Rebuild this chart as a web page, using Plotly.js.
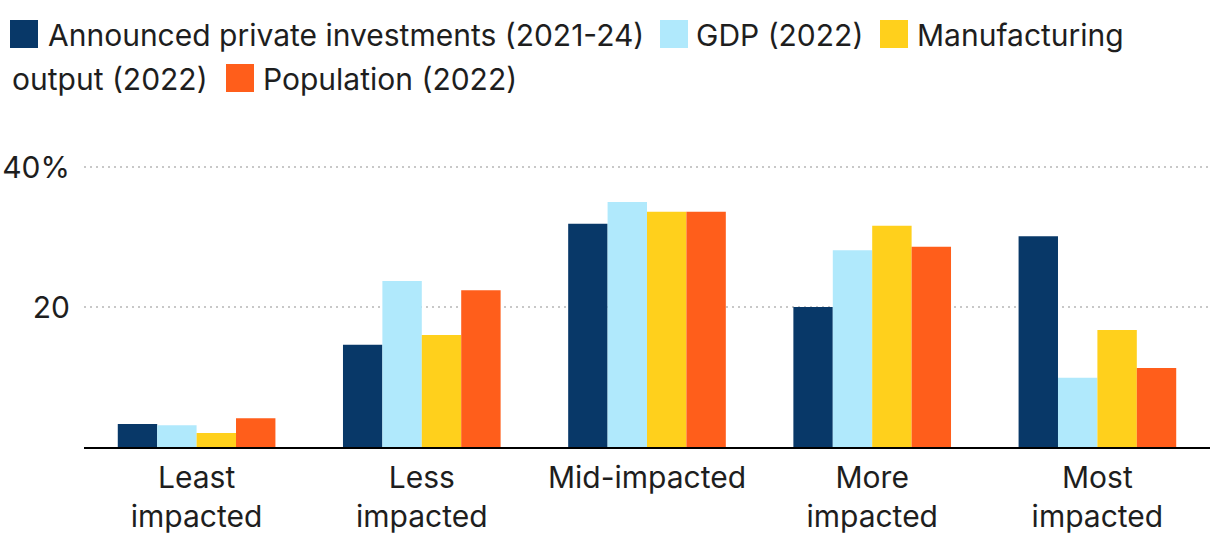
<!DOCTYPE html>
<html>
<head>
<meta charset="utf-8">
<script src="https://cdn.plot.ly/plotly-3.0.1.min.js"></script>
<style>html,body{margin:0;padding:0;background:#fff;}#chart{width:1220px;height:552px;}</style>
</head>
<body>
<div id="chart"></div>
<script>
const categories = ["Least<br>impacted", "Less<br>impacted", "Mid-impacted", "More<br>impacted", "Most<br>impacted"];
const seriesNames = ["Announced private investments (2021-24)", "GDP (2022)", "Manufacturing output (2022)", "Population (2022)"];
const investments = [3.3, 14.6, 31.9, 20.0, 30.1];
const gdp = [3.1, 23.7, 35.0, 28.1, 9.9];
const manufacturing = [2.0, 16.0, 33.6, 31.6, 16.7];
const population = [4.1, 22.4, 33.6, 28.6, 11.3];
const tickVals = [20, 40];
const tickText = ["20", "40%"];

const colors = ["#083868", "#B0E9FC", "#FFD01C", "#FF5E1B"];
const allValues = [investments, gdp, manufacturing, population];

const W = 1220, H = 552;
const M = {l: 84, r: 10, t: 160, b: 105};
const PW = W - M.l - M.r, PH = H - M.t - M.b;
const px = x => (x - M.l) / PW;
const py = y => (H - M.b - y) / PH;

const FONT = "Inter, 'Noto Sans', sans-serif";
const TXT = "#1e1e1e";
const FS = 30;

const traces = allValues.map((vals, i) => ({
  type: "bar",
  name: seriesNames[i],
  x: categories,
  y: vals,
  marker: {color: colors[i], line: {width: 0}},
  hoverinfo: "y+name"
}));

// custom legend (wrapped like the reference)
const legendItems = [
  {sq: [10, 20], text: seriesNames[0], tx: 46, ty: 35, c: colors[0]},
  {sq: [660, 20], text: seriesNames[1], tx: 694, ty: 35, c: colors[1]},
  {sq: [880, 20], text: "Manufacturing", tx: 915, ty: 35, c: colors[2]},
  {sq: null, text: "output (2022)", tx: 10, ty: 79, c: null},
  {sq: [226, 64], text: seriesNames[3], tx: 261, ty: 79, c: colors[3]}
];
const shapes = [];
const annotations = [];
legendItems.forEach(it => {
  if (it.sq) {
    shapes.push({type: "rect", xref: "paper", yref: "paper",
      x0: px(it.sq[0]), x1: px(it.sq[0] + 28), y0: py(it.sq[1]), y1: py(it.sq[1] + 28),
      fillcolor: it.c, line: {width: 0}});
  }
  annotations.push({xref: "paper", yref: "paper", x: px(it.tx), y: py(it.ty),
    xanchor: "left", yanchor: "middle", showarrow: false, text: it.text,
    font: {family: FONT, size: FS, color: TXT}});
});

const layout = {
  width: W, height: H,
  margin: M,
  paper_bgcolor: "#fff", plot_bgcolor: "#fff",
  showlegend: false,
  barmode: "group",
  bargap: 0.3,
  bargroupgap: 0,
  font: {family: FONT, size: FS, color: TXT},
  xaxis: {
    type: "category",
    showgrid: false,
    showline: true, linecolor: "#000", linewidth: 2,
    ticks: "", tickfont: {family: FONT, size: FS, color: TXT},
    ticklabelstandoff: 3,
    zeroline: false
  },
  yaxis: {
    range: [0, 41],
    tickvals: tickVals, ticktext: tickText,
    showgrid: true, gridcolor: "#c8c8c8", griddash: "2px,4px", gridwidth: 2,
    zeroline: false, showline: false,
    ticks: "", ticklabelstandoff: 13,
    tickfont: {family: FONT, size: FS, color: TXT}
  },
  shapes: shapes,
  annotations: annotations
};

Plotly.newPlot("chart", traces, layout, {displayModeBar: false, staticPlot: true});
</script>
</body>
</html>
